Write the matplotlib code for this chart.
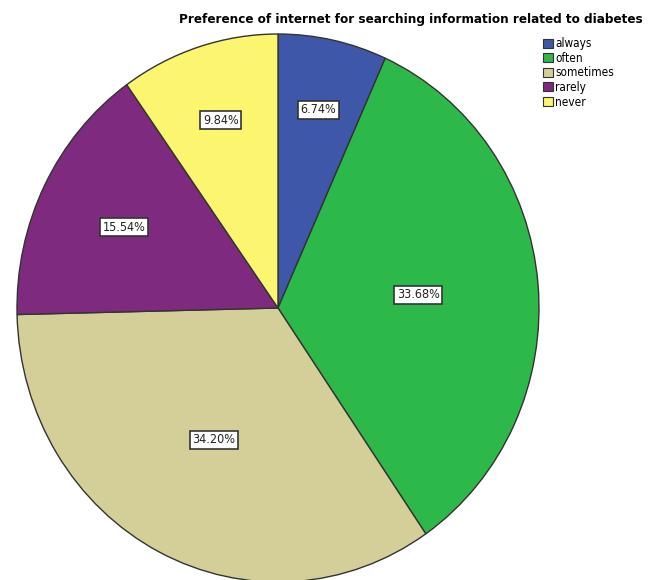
import numpy as np
import matplotlib.pyplot as plt
from matplotlib.patches import Patch

categories = ['always', 'often', 'sometimes', 'rarely', 'never']
percent = [6.74, 33.68, 34.20, 15.54, 9.84]
colors = ['#3f57a8', '#2db84a', '#d4cf98', '#7e2a7e', '#fbf56f']
# how far out each percentage box sits (fraction of radius)
label_dist = [0.74, 0.54, 0.54, 0.66, 0.72]

plt.rcParams['font.family'] = ['DejaVu Sans']
plt.rcParams['font.stretch'] = 'condensed'

fig = plt.figure(figsize=(6.64, 5.8), dpi=100)
ax = fig.add_axes([17 / 664, -2 / 580, 522 / 664, 548 / 580])

wedges, texts, autotexts = ax.pie(
    percent, colors=colors, startangle=90, counterclock=False,
    autopct='%1.2f%%', wedgeprops=dict(edgecolor='#333333', linewidth=1.0),
    textprops=dict(fontsize=9, color='#222222'))

for w, t, d in zip(wedges, autotexts, label_dist):
    ang = np.deg2rad((w.theta1 + w.theta2) / 2)
    t.set_position((d * np.cos(ang), d * np.sin(ang)))
    t.set_bbox(dict(boxstyle='square,pad=0.2', facecolor='white',
                    edgecolor='#333333', linewidth=1.2))

ax.set_aspect('auto')
ax.set_xlim(-1.0, 1.0)
ax.set_ylim(-1.0, 1.0)
ax.axis('off')

fig.text(411 / 664, 1 - 19 / 580, 'Preference of internet for searching information related to diabetes',
         ha='center', va='center', fontsize=9.6, fontweight='bold')

handles = [Patch(facecolor=c, edgecolor='#333333', linewidth=0.8) for c in colors]
fig.legend(handles, categories, loc='upper left', bbox_to_anchor=(541 / 664, 1 - 35 / 580),
           frameon=False, fontsize=8.5, handlelength=0.8, handleheight=0.8,
           handletextpad=0.2, labelspacing=0.13, borderpad=0.2, borderaxespad=0)

fig.savefig('out.png', dpi=100)
